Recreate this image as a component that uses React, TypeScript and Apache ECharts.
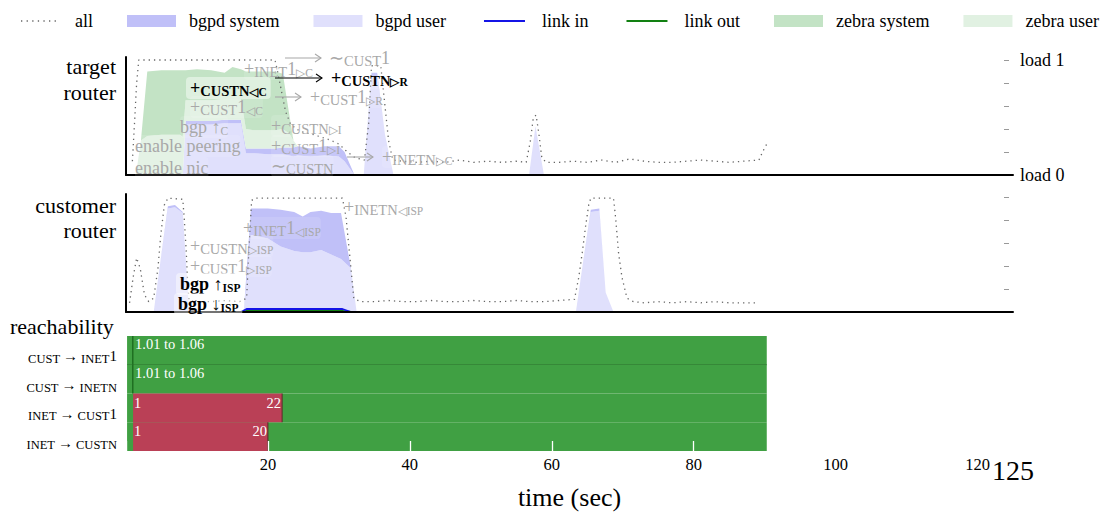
import React, { useEffect, useRef } from 'react';
import * as echarts from 'echarts';

const SERIF = '"Liberation Serif", "Times New Roman", serif';
const GRAY_TEXT = '#a8a8a8';
const BGPD_SYSTEM = '#c0c0f8';
const BGPD_USER = '#e0e0fc';
const ZEBRA_SYSTEM = '#c3e3c5';
const ZEBRA_USER = '#e1f1e2';
const LINK_IN = '#1414e6';
const LINK_OUT = '#128012';
const ALL_GRAY = '#666';
const UP_GREEN = '#40a043';
const DOWN_RED = '#ba4056';
const EDGE_GREEN = '#1f6f22';

// ---- target router: CPU load per process (stacked) ----
const targetTime = [0, 1.4, 2.1, 3.0, 5.0, 7.6, 8.0, 8.4, 10, 12, 13.9, 15, 16.2, 16.9, 18, 20, 21, 22.1, 23.0, 23.6, 24.2, 26, 28, 30, 30.8, 32.2, 33.5, 34.6, 35.4, 36.5, 37.7, 56.8, 57.7, 58.9, 90];
const targetBgpdUser = [0, 0, 0, 0, 0, 0, 0, 0.44, 0.44, 0.44, 0.45, 0.45, 0.45, 0.19, 0.19, 0.18, 0.18, 0.18, 0.17, 0.16, 0.17, 0.16, 0.17, 0.16, 0.12, 0, 0, 0.86, 0.86, 0.35, 0, 0, 0.41, 0, 0];
const targetBgpdSystem = [0, 0, 0, 0, 0, 0, 0, 0.03, 0.03, 0.03, 0.03, 0.03, 0.03, 0.04, 0.04, 0.05, 0.05, 0.06, 0.07, 0.08, 0.08, 0.07, 0.08, 0.09, 0.08, 0, 0, 0.03, 0.03, 0, 0, 0, 0.01, 0, 0];
const targetZebraUser = [0, 0, 0.3, 0.34, 0.35, 0.35, 0.33, 0.18, 0.18, 0.18, 0.18, 0.18, 0.18, 0.17, 0.16, 0.16, 0.16, 0.16, 0.12, 0.06, 0, 0, 0, 0, 0, 0, 0, 0, 0, 0, 0, 0, 0, 0, 0];
const targetZebraSystem = [0, 0, 0, 0.56, 0.56, 0.56, 0.58, 0.26, 0.27, 0.26, 0.23, 0.28, 0.26, 0.5, 0.51, 0.51, 0.51, 0.48, 0.17, 0, 0, 0, 0, 0, 0, 0, 0, 0, 0, 0, 0, 0, 0, 0, 0];

const targetAllTime = [0.9, 1.2, 1.5, 1.8, 21.0, 21.5, 22.0, 22.5, 23.2, 24.5, 26.5, 28.5, 30.0, 31.2, 32.3, 33.6, 34.2, 34.6, 35.9, 36.5, 37.0, 37.6, 39, 41, 43, 45, 47, 49, 51, 53, 55, 56.4, 57.0, 57.4, 57.8, 58.2, 58.6, 59.2, 61, 63, 65, 67, 69, 71, 73, 75, 77, 79, 81, 83, 85, 87, 89.2, 89.7, 90.3];
const targetAll = [0.12, 0.45, 0.8, 1.0, 1.0, 0.86, 0.7, 0.55, 0.44, 0.38, 0.35, 0.31, 0.27, 0.2, 0.15, 0.13, 0.45, 0.95, 0.95, 0.6, 0.3, 0.13, 0.12, 0.11, 0.12, 0.11, 0.13, 0.11, 0.12, 0.11, 0.12, 0.11, 0.3, 0.5, 0.52, 0.35, 0.15, 0.11, 0.11, 0.12, 0.11, 0.13, 0.11, 0.14, 0.12, 0.11, 0.11, 0.12, 0.13, 0.12, 0.11, 0.12, 0.13, 0.2, 0.27];

// ---- customer router ----
const customerTime = [0, 3.9, 5.9, 6.9, 8.0, 8.9, 16.6, 17.6, 20, 21.8, 23.7, 24.9, 26, 27.5, 28.9, 30.3, 31.7, 32.5, 63.4, 65.5, 66.7, 67.6, 68.7, 90];
const customerBgpdUser = [0, 0, 0.9, 0.91, 0.86, 0, 0, 0.67, 0.64, 0.57, 0.53, 0.52, 0.52, 0.54, 0.5, 0.46, 0.38, 0, 0, 0.87, 0.88, 0.17, 0, 0];
const customerBgpdSystem = [0, 0, 0.02, 0.02, 0.01, 0, 0, 0.23, 0.26, 0.32, 0.34, 0.31, 0.35, 0.34, 0.36, 0.4, 0, 0, 0, 0.02, 0.02, 0, 0, 0];

const customerAllTime = [0.5, 1.0, 1.5, 2.0, 2.6, 3.2, 3.9, 4.5, 4.9, 5.4, 5.9, 8.0, 8.2, 8.5, 8.7, 8.9, 10, 12, 14, 16, 17.0, 17.3, 17.7, 18.2, 30.5, 31.0, 31.7, 32.1, 33, 35, 37, 39, 41, 43, 45, 47, 49, 51, 53, 55, 57, 59, 61, 63.2, 63.8, 64.3, 64.8, 65.2, 65.5, 68.7, 69.0, 69.4, 69.9, 70.6, 71.5, 73, 75, 77, 79, 81, 83, 85, 87, 89];
const customerAll = [0.08, 0.3, 0.47, 0.38, 0.15, 0.09, 0.12, 0.38, 0.67, 0.93, 0.99, 0.98, 0.82, 0.52, 0.23, 0.1, 0.09, 0.09, 0.1, 0.09, 0.12, 0.52, 0.97, 0.99, 0.99, 0.83, 0.38, 0.12, 0.09, 0.09, 0.1, 0.09, 0.09, 0.1, 0.09, 0.09, 0.1, 0.09, 0.09, 0.1, 0.09, 0.09, 0.1, 0.11, 0.3, 0.52, 0.76, 0.93, 0.99, 0.99, 0.82, 0.52, 0.3, 0.12, 0.09, 0.08, 0.09, 0.08, 0.09, 0.08, 0.09, 0.08, 0.08, 0.08];

const linkTime = [0, 16.2, 17.0, 30.5, 31.7, 85];
const customerLinkIn = [0, 0, 0.026, 0.026, 0, 0];
const customerLinkOut = [0, 0, 0.01, 0.01, 0, 0];
const targetLinkIn = [0, 0, 0, 0, 0, 0];
const targetLinkOut = [0, 0, 0, 0, 0, 0];

// ---- reachability ----
const reachRows = ['CUST → INET1', 'CUST → INETN', 'INET → CUST1', 'INET → CUSTN'];
const reachUp: number[][] = [[0, 0.15, 90.3], [1, 0.15, 90.3], [2, 0.15, 90.3], [3, 0.15, 90.3]];
const reachOutages: number[][] = [[0, 1.01, 1.06], [1, 1.01, 1.06], [2, 1, 22], [3, 1, 20]];

const loadTicks = [0.2, 0.4, 0.6, 0.8, 1];
const loadLabels = [0, 1];

// Points are stored as [load, time] so that stacking sums the load dimension.
const pairs = (xs: number[], ys: number[]) => xs.map((x, i) => [ys[i], x]);

function richStyles(color: string, bold: boolean) {
  const fontWeight = bold ? 'bold' : 'normal';
  return {
    n: { fontFamily: SERIF, fontSize: 18, lineHeight: 20, fill: color, fontWeight },
    sc: { fontFamily: SERIF, fontSize: 14.5, lineHeight: 18, verticalAlign: 'bottom', fill: color, fontWeight },
    sub: { fontFamily: SERIF, fontSize: 11.5, lineHeight: 10, verticalAlign: 'bottom', fill: color, fontWeight },
  };
}

function note(x: number, y: number, parts: [string, string][], bold = false, bg = false) {
  const color = bold ? '#000' : GRAY_TEXT;
  const pad = bg ? 4 : 0;
  return {
    type: 'text',
    x: x - pad,
    y,
    z: 60,
    style: {
      text: parts.map(([k, s]) => `{${k}|${s}}`).join(''),
      rich: richStyles(color, bold),
      textAlign: 'left',
      textVerticalAlign: 'middle',
      align: 'left',
      verticalAlign: 'middle',
      backgroundColor: bg ? 'rgba(255,255,255,0.45)' : 'rgba(255,255,255,0.12)',
      padding: [1, pad],
      borderRadius: 4,
    },
  };
}

function arrow(x1: number, x2: number, y: number, color: string) {
  return {
    type: 'group',
    children: [
      { type: 'line', z: 60, shape: { x1, y1: y, x2, y2: y }, style: { stroke: color, lineWidth: 1.1 } },
      {
        type: 'polyline',
        z: 60,
        shape: { points: [[x2 - 6, y - 4], [x2, y], [x2 - 6, y + 4]] },
        style: { stroke: color, lineWidth: 1.1, fill: null },
      },
    ],
  };
}

function sideLabel(text: string, x: number, y: number, align: string) {
  return {
    type: 'text',
    x,
    y,
    z: 60,
    style: {
      text,
      fontFamily: SERIF,
      fontSize: 22,
      fill: '#000',
      textAlign: align,
      textVerticalAlign: 'middle',
      align,
      verticalAlign: 'middle',
    },
  };
}

function areaSeries(name: string, color: string, xAxisIndex: number, yAxisIndex: number, stack: string, time: number[], values: number[]) {
  return {
    name,
    type: 'line',
    xAxisIndex,
    yAxisIndex,
    stack,
    color,
    symbol: 'none',
    encode: { x: 1, y: 0 },
    lineStyle: { width: 0, color },
    areaStyle: { color, opacity: 1 },
    data: pairs(time, values),
    z: 2,
  };
}

function lineSeries(name: string, xAxisIndex: number, yAxisIndex: number, time: number[], values: number[], lineStyle: any, z: number) {
  return {
    name,
    type: 'line',
    xAxisIndex,
    yAxisIndex,
    symbol: 'none',
    showSymbol: false,
    encode: { x: 1, y: 0 },
    color: lineStyle.color,
    lineStyle,
    data: pairs(time, values),
    z,
  };
}

const dotted = { color: ALL_GRAY, width: 1.3, type: [1.3, 4] };

// legend glyphs: a dotted run and short solid strokes, padded to the full icon width
const DOTS_ICON = 'path://M0,0L0,0' + [8, 13.6, 19.2, 24.8, 30.4, 36, 41.6].map((x) => `M${x},0h1.3v1.3h-1.3z`).join('') + 'M49,0L49,0';
const STROKE_ICON = 'path://M0,0L0,0M4,0h41v2h-41zM49,0L49,0';

// row names: letters in small capitals, arrows and digits at full size
function rowLabel(v: string) {
  return v
    .split(/(→|\d)/)
    .filter((s) => s.length > 0)
    .map((s) => (/^(→|\d)$/.test(s) ? `{n|${s}}` : `{sc|${s}}`))
    .join('');
}

function buildOption() {
  const panelX = (gridIndex: number) => ({
    gridIndex,
    type: 'value',
    min: 0,
    max: 125,
    z: 10,
    axisLine: { show: true, lineStyle: { color: '#000', width: 2 } },
    axisTick: { show: false },
    axisLabel: { show: false },
    splitLine: { show: false },
  });
  const leftY = (gridIndex: number) => ({
    gridIndex,
    type: 'value',
    min: 0,
    max: 1.026,
    z: 10,
    axisLine: { show: true, lineStyle: { color: '#000', width: 2 } },
    axisTick: { show: false },
    axisLabel: { show: false },
    splitLine: { show: false },
  });
  const rightY = (gridIndex: number, withLabels: boolean) => ({
    gridIndex,
    type: 'value',
    position: 'right',
    offset: -4,
    min: 0,
    max: 1.026,
    z: 10,
    axisLine: { show: false },
    axisTick: { show: true, inside: true, length: 5, customValues: loadTicks, lineStyle: { color: '#999', width: 1 } },
    axisLabel: {
      show: withLabels,
      customValues: loadLabels,
      margin: 11,
      formatter: (v: number) => `load ${v}`,
      fontFamily: SERIF,
      fontSize: 18,
      color: '#000',
    },
    splitLine: { show: false },
  });

  const reachData = [
    ...reachUp.map(([r, s, e]) => [r, s, e, 0]),
    ...reachOutages.map(([r, s, e]) => [r, s, e, 1]),
  ];

  const white = (text: string, x: number, y: number, align: string) => ({
    type: 'text',
    x,
    y,
    style: {
      text,
      fill: '#fff',
      fontFamily: SERIF,
      fontSize: 14.5,
      textAlign: align,
      textVerticalAlign: 'middle',
      align,
      verticalAlign: 'middle',
    },
  });

  const renderReach = (params: any, api: any) => {
    const row = api.value(0);
    const s = api.value(1);
    const e = api.value(2);
    const kind = api.value(3);
    const a = api.coord([s, row]);
    const b = api.coord([e, row]);
    const h = api.size([0, 1])[1];
    const top = a[1] - h / 2;
    if (kind === 0) {
      const children: any[] = [
        { type: 'rect', shape: { x: a[0], y: top, width: b[0] - a[0], height: h }, style: { fill: UP_GREEN } },
      ];
      if (row === 0) {
        children.push({
          type: 'line',
          shape: { x1: a[0], y1: top + h, x2: b[0], y2: top + h },
          style: { stroke: EDGE_GREEN, lineWidth: 1 },
        });
      }
      return { type: 'group', children };
    }
    const w = b[0] - a[0];
    if (w < 2) {
      return {
        type: 'group',
        children: [
          { type: 'rect', shape: { x: b[0] - 1.5, y: top, width: 1.5, height: h }, style: { fill: EDGE_GREEN } },
          white(`${s.toFixed(2)} to ${e.toFixed(2)}`, b[0] + 1.5, top + 8, 'left'),
        ],
      };
    }
    return {
      type: 'group',
      children: [
        { type: 'rect', shape: { x: a[0], y: top, width: w, height: h }, style: { fill: DOWN_RED } },
        { type: 'line', shape: { x1: b[0], y1: top, x2: b[0], y2: top + h }, style: { stroke: '#5a2a2a', lineWidth: 1 } },
        white(String(s), a[0] + 1, top + 9, 'left'),
        white(String(e), b[0] - 1, top + 9, 'right'),
      ],
    };
  };

  const gray = GRAY_TEXT;
  const graphics: any[] = [
    sideLabel('target', 116, 66, 'right'),
    sideLabel('router', 116, 92, 'right'),
    sideLabel('customer', 116, 205, 'right'),
    sideLabel('router', 116, 230, 'right'),
    sideLabel('reachability', 10, 326, 'left'),
    // target router events
    note(135, 168, [['n', 'enable nic']]),
    note(135, 146, [['n', 'enable peering']]),
    note(180, 127, [['n', 'bgp ↑'], ['sub', 'C']]),
    note(190, 107, [['n', '+'], ['sc', 'CUST'], ['n', '1'], ['sub', '◁C']]),
    note(190, 88, [['n', '+'], ['sc', 'CUSTN'], ['sub', '◁C']], true, true),
    note(244, 69, [['n', '+'], ['sc', 'INET'], ['n', '1'], ['sub', '▷C']]),
    arrow(285, 321, 58, gray),
    note(329, 58, [['n', '∼'], ['sc', 'CUST'], ['n', '1']]),
    arrow(275, 322, 78, '#000'),
    note(331, 78, [['n', '+'], ['sc', 'CUSTN'], ['sub', '▷R']], true),
    arrow(275, 301, 97, gray),
    note(310, 97, [['n', '+'], ['sc', 'CUST'], ['n', '1'], ['sub', '▷R']]),
    note(271, 126, [['n', '+'], ['sc', 'CUSTN'], ['sub', '▷I']]),
    note(271, 146, [['n', '+'], ['sc', 'CUST'], ['n', '1'], ['sub', '▷I']]),
    note(271, 166, [['n', '∼'], ['sc', 'CUSTN']]),
    arrow(347, 373, 157, gray),
    note(382, 157, [['n', '+'], ['sc', 'INETN'], ['sub', '▷C']]),
    // customer router events
    note(344, 207, [['n', '+'], ['sc', 'INETN'], ['sub', '◁ISP']]),
    note(243, 228, [['n', '+'], ['sc', 'INET'], ['n', '1'], ['sub', '◁ISP']]),
    note(190, 246, [['n', '+'], ['sc', 'CUSTN'], ['sub', '▷ISP']]),
    note(190, 266, [['n', '+'], ['sc', 'CUST'], ['n', '1'], ['sub', '▷ISP']]),
    note(180, 284, [['n', 'bgp ↑'], ['sub', 'ISP']], true, true),
    note(178, 304, [['n', 'bgp ↓'], ['sub', 'ISP']], true, true),
  ];

  return {
    animation: false,
    backgroundColor: '#fff',
    textStyle: { fontFamily: SERIF },
    legend: {
      left: 8,
      top: 7,
      itemWidth: 49,
      itemHeight: 12,
      itemGap: 34,
      textStyle: { fontFamily: SERIF, fontSize: 18, color: '#000', padding: [0, 0, 0, 8] },
      data: [
        { name: 'all', icon: DOTS_ICON, itemStyle: { color: ALL_GRAY } },
        { name: 'bgpd system', icon: 'rect', itemStyle: { color: BGPD_SYSTEM } },
        { name: 'bgpd user', icon: 'rect', itemStyle: { color: BGPD_USER } },
        { name: 'link in', icon: STROKE_ICON, itemStyle: { color: LINK_IN } },
        { name: 'link out', icon: STROKE_ICON, itemStyle: { color: LINK_OUT } },
        { name: 'zebra system', icon: 'rect', itemStyle: { color: ZEBRA_SYSTEM } },
        { name: 'zebra user', icon: 'rect', itemStyle: { color: ZEBRA_USER } },
      ],
    },
    grid: [
      { left: 126, right: 95, top: 57, height: 118 },
      { left: 126, right: 95, top: 194, height: 118 },
      { left: 126, right: 95, top: 336, height: 115 },
    ],
    xAxis: [
      panelX(0),
      panelX(1),
      {
        gridIndex: 2,
        type: 'value',
        min: 0,
        max: 125,
        interval: 20,
        z: 10,
        axisLine: { show: false },
        axisTick: { show: true, inside: true, length: 10, lineStyle: { color: '#fff', width: 1.3 } },
        axisLabel: {
          margin: 5,
          fontFamily: SERIF,
          fontSize: 16.5,
          color: '#000',
          formatter: (v: number) => (v === 0 ? '' : v === 125 ? '{big|125}' : String(v)),
          rich: { big: { fontFamily: SERIF, fontSize: 28, color: '#000' } },
        },
        splitLine: { show: false },
        name: 'time (sec)',
        nameLocation: 'middle',
        nameGap: 32,
        nameTextStyle: { fontFamily: SERIF, fontSize: 26, color: '#000' },
      },
    ],
    yAxis: [
      leftY(0),
      rightY(0, true),
      leftY(1),
      rightY(1, false),
      {
        gridIndex: 2,
        type: 'category',
        inverse: true,
        data: reachRows,
        axisLine: { show: false },
        axisTick: { show: false },
        splitLine: { show: false },
        axisLabel: {
          margin: 9,
          padding: [12, 0, 0, 0],
          formatter: rowLabel,
          rich: {
            sc: { fontFamily: SERIF, fontSize: 12.5, lineHeight: 17, verticalAlign: 'bottom', color: '#000' },
            n: { fontFamily: SERIF, fontSize: 15, lineHeight: 18, color: '#000' },
          },
        },
      },
    ],
    series: [
      areaSeries('bgpd user', BGPD_USER, 0, 0, 'target', targetTime, targetBgpdUser),
      areaSeries('bgpd system', BGPD_SYSTEM, 0, 0, 'target', targetTime, targetBgpdSystem),
      areaSeries('zebra user', ZEBRA_USER, 0, 0, 'target', targetTime, targetZebraUser),
      areaSeries('zebra system', ZEBRA_SYSTEM, 0, 0, 'target', targetTime, targetZebraSystem),
      lineSeries('all', 0, 0, targetAllTime, targetAll, dotted, 5),
      lineSeries('link out', 0, 0, linkTime, targetLinkOut, { color: LINK_OUT, width: 1.8 }, 6),
      lineSeries('link in', 0, 0, linkTime, targetLinkIn, { color: LINK_IN, width: 1.8 }, 6),

      areaSeries('bgpd user', BGPD_USER, 1, 2, 'customer', customerTime, customerBgpdUser),
      areaSeries('bgpd system', BGPD_SYSTEM, 1, 2, 'customer', customerTime, customerBgpdSystem),
      lineSeries('all', 1, 2, customerAllTime, customerAll, dotted, 5),
      lineSeries('link out', 1, 2, linkTime, customerLinkOut, { color: LINK_OUT, width: 1.8 }, 6),
      lineSeries('link in', 1, 2, linkTime, customerLinkIn, { color: LINK_IN, width: 1.8 }, 6),

      {
        name: 'reachability',
        type: 'custom',
        xAxisIndex: 2,
        yAxisIndex: 4,
        dimensions: ['row', 'start', 'end', 'kind'],
        encode: { x: [1, 2], y: 0 },
        renderItem: renderReach,
        data: reachData,
        clip: false,
        z: 3,
      },
    ],
    graphic: graphics,
  };
}

export default function App() {
  const ref = useRef<HTMLDivElement>(null);
  useEffect(() => {
    const chart = echarts.init(ref.current!, null, { renderer: 'svg' });
    chart.setOption(buildOption() as any);
    return () => chart.dispose();
  }, []);
  return (
    <div
      ref={ref}
      style={{ position: 'fixed', left: 0, top: 0, width: 1108, height: 515, background: '#fff' }}
    />
  );
}
